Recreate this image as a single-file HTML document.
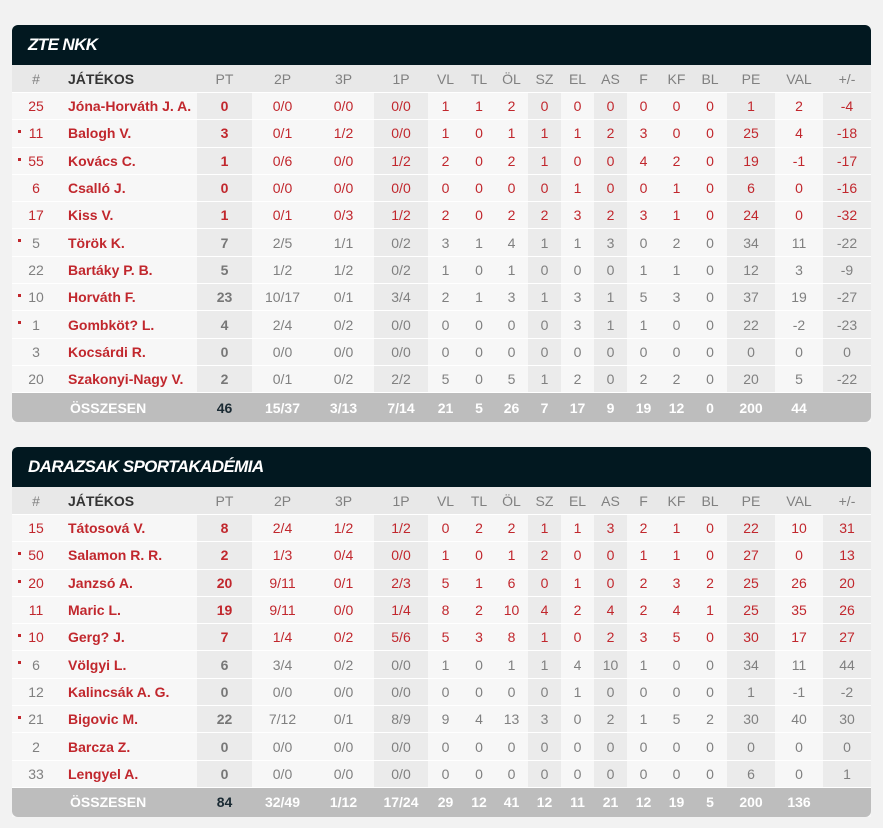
<!DOCTYPE html>
<html><head><meta charset="utf-8">
<style>
body{margin:0;background:#f2f2f2;font-family:"Liberation Sans",sans-serif;width:883px;height:828px;overflow:hidden}
.box{position:absolute;left:12px;width:859px}
.ttl{height:40px;background:#021820;border-radius:6px 6px 0 0;color:#fff;font-weight:bold;font-style:italic;font-size:17px;line-height:40px;padding-left:16px;letter-spacing:-0.6px}
table{border-collapse:collapse;table-layout:fixed;width:859px;background:#f7f7f7;font-size:14px}
col.s{background:#ebebeb}
td{height:26.3px;border-bottom:1px solid #fff;text-align:center;padding:0;white-space:nowrap;overflow:hidden}
tr.h td{background:#e8e8e8;color:#808080;font-size:14px;height:27px}
tr.h td.b{color:#333;font-weight:bold}
td.n{text-align:left;font-weight:bold;color:#c1272d;padding-left:8px}
td.p{font-weight:bold}
tr.r td{color:#c1272d}
tr.g td{color:#808080}
tr.g td.p{color:#777}
tr.g td.n,tr.r td.n{color:#c1272d}
td.nm{position:relative}
td.nm i{position:absolute;left:6px;top:10px;width:3px;height:3px;background:#c1272d}
tr.t td{background:#bdbdbd;color:#fff;font-weight:bold;height:29px;border:none}
tr.t td.p{color:#1a2a33}
</style></head><body>

<div class="box" style="top:25px">
<div class="ttl">ZTE NKK</div>
<table>
<colgroup><col style="width:48px"><col style="width:137px"><col class="s" style="width:55px"><col style="width:61px"><col style="width:61px"><col class="s" style="width:54px"><col style="width:35px"><col style="width:32px"><col style="width:33px"><col class="s" style="width:33px"><col style="width:33px"><col class="s" style="width:33px"><col style="width:33px"><col style="width:33px"><col style="width:34px"><col class="s" style="width:48px"><col style="width:48px"><col class="s" style="width:48px"></colgroup>
<tr class="h"><td>#</td><td class="n b" style="color:#333">JÁTÉKOS</td><td class="b" style="color:#808080;font-weight:normal">PT</td><td>2P</td><td>3P</td><td>1P</td><td>VL</td><td>TL</td><td>ÖL</td><td>SZ</td><td>EL</td><td>AS</td><td>F</td><td>KF</td><td>BL</td><td>PE</td><td>VAL</td><td>+/-</td></tr>
<tr class="r"><td class="nm">25</td><td class="n">Jóna-Horváth J. A.</td><td class="p">0</td><td>0/0</td><td>0/0</td><td>0/0</td><td>1</td><td>1</td><td>2</td><td>0</td><td>0</td><td>0</td><td>0</td><td>0</td><td>0</td><td>1</td><td>2</td><td>-4</td></tr>
<tr class="r"><td class="nm"><i></i>11</td><td class="n">Balogh V.</td><td class="p">3</td><td>0/1</td><td>1/2</td><td>0/0</td><td>1</td><td>0</td><td>1</td><td>1</td><td>1</td><td>2</td><td>3</td><td>0</td><td>0</td><td>25</td><td>4</td><td>-18</td></tr>
<tr class="r"><td class="nm"><i></i>55</td><td class="n">Kovács C.</td><td class="p">1</td><td>0/6</td><td>0/0</td><td>1/2</td><td>2</td><td>0</td><td>2</td><td>1</td><td>0</td><td>0</td><td>4</td><td>2</td><td>0</td><td>19</td><td>-1</td><td>-17</td></tr>
<tr class="r"><td class="nm">6</td><td class="n">Csalló J.</td><td class="p">0</td><td>0/0</td><td>0/0</td><td>0/0</td><td>0</td><td>0</td><td>0</td><td>0</td><td>1</td><td>0</td><td>0</td><td>1</td><td>0</td><td>6</td><td>0</td><td>-16</td></tr>
<tr class="r"><td class="nm">17</td><td class="n">Kiss V.</td><td class="p">1</td><td>0/1</td><td>0/3</td><td>1/2</td><td>2</td><td>0</td><td>2</td><td>2</td><td>3</td><td>2</td><td>3</td><td>1</td><td>0</td><td>24</td><td>0</td><td>-32</td></tr>
<tr class="g"><td class="nm"><i></i>5</td><td class="n">Török K.</td><td class="p">7</td><td>2/5</td><td>1/1</td><td>0/2</td><td>3</td><td>1</td><td>4</td><td>1</td><td>1</td><td>3</td><td>0</td><td>2</td><td>0</td><td>34</td><td>11</td><td>-22</td></tr>
<tr class="g"><td class="nm">22</td><td class="n">Bartáky P. B.</td><td class="p">5</td><td>1/2</td><td>1/2</td><td>0/2</td><td>1</td><td>0</td><td>1</td><td>0</td><td>0</td><td>0</td><td>1</td><td>1</td><td>0</td><td>12</td><td>3</td><td>-9</td></tr>
<tr class="g"><td class="nm"><i></i>10</td><td class="n">Horváth F.</td><td class="p">23</td><td>10/17</td><td>0/1</td><td>3/4</td><td>2</td><td>1</td><td>3</td><td>1</td><td>3</td><td>1</td><td>5</td><td>3</td><td>0</td><td>37</td><td>19</td><td>-27</td></tr>
<tr class="g"><td class="nm"><i></i>1</td><td class="n">Gombköt? L.</td><td class="p">4</td><td>2/4</td><td>0/2</td><td>0/0</td><td>0</td><td>0</td><td>0</td><td>0</td><td>3</td><td>1</td><td>1</td><td>0</td><td>0</td><td>22</td><td>-2</td><td>-23</td></tr>
<tr class="g"><td class="nm">3</td><td class="n">Kocsárdi R.</td><td class="p">0</td><td>0/0</td><td>0/0</td><td>0/0</td><td>0</td><td>0</td><td>0</td><td>0</td><td>0</td><td>0</td><td>0</td><td>0</td><td>0</td><td>0</td><td>0</td><td>0</td></tr>
<tr class="g"><td class="nm">20</td><td class="n">Szakonyi-Nagy V.</td><td class="p">2</td><td>0/1</td><td>0/2</td><td>2/2</td><td>5</td><td>0</td><td>5</td><td>1</td><td>2</td><td>0</td><td>2</td><td>2</td><td>0</td><td>20</td><td>5</td><td>-22</td></tr>
<tr class="t"><td style="border-radius:0 0 0 6px"></td><td class="n" style="color:#fff;padding-left:10px">ÖSSZESEN</td><td class="p">46</td><td>15/37</td><td>3/13</td><td>7/14</td><td>21</td><td>5</td><td>26</td><td>7</td><td>17</td><td>9</td><td>19</td><td>12</td><td>0</td><td>200</td><td>44</td><td style="border-radius:0 0 6px 0"></td></tr>
</table>
</div>

<div class="box" style="top:447px">
<div class="ttl">DARAZSAK SPORTAKADÉMIA</div>
<table>
<colgroup><col style="width:48px"><col style="width:137px"><col class="s" style="width:55px"><col style="width:61px"><col style="width:61px"><col class="s" style="width:54px"><col style="width:35px"><col style="width:32px"><col style="width:33px"><col class="s" style="width:33px"><col style="width:33px"><col class="s" style="width:33px"><col style="width:33px"><col style="width:33px"><col style="width:34px"><col class="s" style="width:48px"><col style="width:48px"><col class="s" style="width:48px"></colgroup>
<tr class="h"><td>#</td><td class="n b" style="color:#333">JÁTÉKOS</td><td class="b" style="color:#808080;font-weight:normal">PT</td><td>2P</td><td>3P</td><td>1P</td><td>VL</td><td>TL</td><td>ÖL</td><td>SZ</td><td>EL</td><td>AS</td><td>F</td><td>KF</td><td>BL</td><td>PE</td><td>VAL</td><td>+/-</td></tr>
<tr class="r"><td class="nm">15</td><td class="n">Tátosová V.</td><td class="p">8</td><td>2/4</td><td>1/2</td><td>1/2</td><td>0</td><td>2</td><td>2</td><td>1</td><td>1</td><td>3</td><td>2</td><td>1</td><td>0</td><td>22</td><td>10</td><td>31</td></tr>
<tr class="r"><td class="nm"><i></i>50</td><td class="n">Salamon R. R.</td><td class="p">2</td><td>1/3</td><td>0/4</td><td>0/0</td><td>1</td><td>0</td><td>1</td><td>2</td><td>0</td><td>0</td><td>1</td><td>1</td><td>0</td><td>27</td><td>0</td><td>13</td></tr>
<tr class="r"><td class="nm"><i></i>20</td><td class="n">Janzsó A.</td><td class="p">20</td><td>9/11</td><td>0/1</td><td>2/3</td><td>5</td><td>1</td><td>6</td><td>0</td><td>1</td><td>0</td><td>2</td><td>3</td><td>2</td><td>25</td><td>26</td><td>20</td></tr>
<tr class="r"><td class="nm">11</td><td class="n">Maric L.</td><td class="p">19</td><td>9/11</td><td>0/0</td><td>1/4</td><td>8</td><td>2</td><td>10</td><td>4</td><td>2</td><td>4</td><td>2</td><td>4</td><td>1</td><td>25</td><td>35</td><td>26</td></tr>
<tr class="r"><td class="nm"><i></i>10</td><td class="n">Gerg? J.</td><td class="p">7</td><td>1/4</td><td>0/2</td><td>5/6</td><td>5</td><td>3</td><td>8</td><td>1</td><td>0</td><td>2</td><td>3</td><td>5</td><td>0</td><td>30</td><td>17</td><td>27</td></tr>
<tr class="g"><td class="nm"><i></i>6</td><td class="n">Völgyi L.</td><td class="p">6</td><td>3/4</td><td>0/2</td><td>0/0</td><td>1</td><td>0</td><td>1</td><td>1</td><td>4</td><td>10</td><td>1</td><td>0</td><td>0</td><td>34</td><td>11</td><td>44</td></tr>
<tr class="g"><td class="nm">12</td><td class="n">Kalincsák A. G.</td><td class="p">0</td><td>0/0</td><td>0/0</td><td>0/0</td><td>0</td><td>0</td><td>0</td><td>0</td><td>1</td><td>0</td><td>0</td><td>0</td><td>0</td><td>1</td><td>-1</td><td>-2</td></tr>
<tr class="g"><td class="nm"><i></i>21</td><td class="n">Bigovic M.</td><td class="p">22</td><td>7/12</td><td>0/1</td><td>8/9</td><td>9</td><td>4</td><td>13</td><td>3</td><td>0</td><td>2</td><td>1</td><td>5</td><td>2</td><td>30</td><td>40</td><td>30</td></tr>
<tr class="g"><td class="nm">2</td><td class="n">Barcza Z.</td><td class="p">0</td><td>0/0</td><td>0/0</td><td>0/0</td><td>0</td><td>0</td><td>0</td><td>0</td><td>0</td><td>0</td><td>0</td><td>0</td><td>0</td><td>0</td><td>0</td><td>0</td></tr>
<tr class="g"><td class="nm">33</td><td class="n">Lengyel A.</td><td class="p">0</td><td>0/0</td><td>0/0</td><td>0/0</td><td>0</td><td>0</td><td>0</td><td>0</td><td>0</td><td>0</td><td>0</td><td>0</td><td>0</td><td>6</td><td>0</td><td>1</td></tr>
<tr class="t"><td style="border-radius:0 0 0 6px"></td><td class="n" style="color:#fff;padding-left:10px">ÖSSZESEN</td><td class="p">84</td><td>32/49</td><td>1/12</td><td>17/24</td><td>29</td><td>12</td><td>41</td><td>12</td><td>11</td><td>21</td><td>12</td><td>19</td><td>5</td><td>200</td><td>136</td><td style="border-radius:0 0 6px 0"></td></tr>
</table>
</div>
</body></html>
